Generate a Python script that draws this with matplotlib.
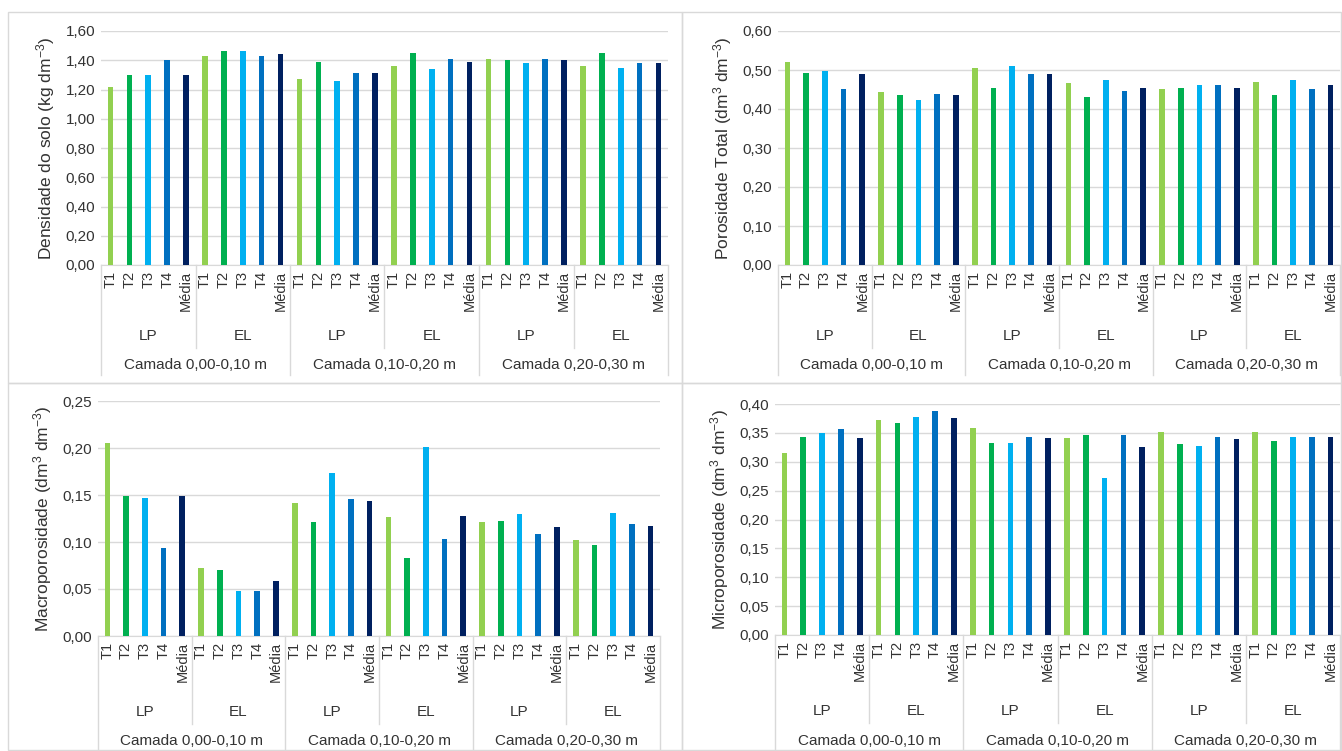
import matplotlib
matplotlib.use("Agg")
import matplotlib.pyplot as plt
from matplotlib.transforms import ScaledTranslation
from matplotlib.ticker import FuncFormatter
from matplotlib.patches import Rectangle

plt.rcParams['font.family'] = ['Liberation Sans', 'DejaVu Sans']
plt.rcParams['mathtext.default'] = 'regular'

# categories
treatments = ['T1', 'T2', 'T3', 'T4', 'Média']
systems = ['LP', 'EL']
layers = ['Camada 0,00-0,10 m', 'Camada 0,10-0,20 m', 'Camada 0,20-0,30 m']
colors = ['#92D050', '#00B050', '#00B0F0', '#0070C0', '#002060']

# values, order: layer -> system -> treatment
densidade = [1.22, 1.30, 1.30, 1.40, 1.30,  1.43, 1.46, 1.46, 1.43, 1.44,
             1.27, 1.39, 1.26, 1.31, 1.31,  1.36, 1.45, 1.34, 1.41, 1.39,
             1.41, 1.40, 1.38, 1.41, 1.40,  1.36, 1.45, 1.35, 1.38, 1.38]
porosidade = [0.520, 0.493, 0.498, 0.451, 0.489,  0.443, 0.436, 0.424, 0.439, 0.435,
              0.505, 0.455, 0.509, 0.489, 0.489,  0.466, 0.432, 0.474, 0.446, 0.455,
              0.451, 0.455, 0.462, 0.462, 0.455,  0.469, 0.435, 0.474, 0.451, 0.462]
macro = [0.205, 0.149, 0.147, 0.094, 0.149,  0.072, 0.070, 0.048, 0.048, 0.059,
         0.141, 0.121, 0.173, 0.146, 0.144,  0.127, 0.083, 0.201, 0.103, 0.128,
         0.121, 0.122, 0.130, 0.108, 0.116,  0.102, 0.097, 0.131, 0.119, 0.117]
micro = [0.315, 0.343, 0.349, 0.356, 0.341,  0.372, 0.367, 0.377, 0.388, 0.375,
         0.359, 0.333, 0.333, 0.343, 0.341,  0.341, 0.346, 0.271, 0.346, 0.326,
         0.351, 0.331, 0.328, 0.343, 0.339,  0.351, 0.336, 0.343, 0.343, 0.343]

W, H = 1342, 751
fig = plt.figure(figsize=(W / 100, H / 100), dpi=100)

# panel frames (pixels: x0, y0, x1, y1 from top-left)
for x0, y0, x1, y1 in [(8, 12, 682, 383), (682, 12, 1341, 383),
                       (8, 383, 682, 750), (682, 383, 1341, 750)]:
    fig.patches.append(Rectangle((x0 / W, 1 - y1 / H), (x1 - x0) / W, (y1 - y0) / H,
                                 transform=fig.transFigure, fill=False,
                                 edgecolor='#D9D9D9', linewidth=1))

panels = [
    # data, ymax, step, ylabel, left, right, zero_px, top_px, bottom_px
    (densidade, 1.6, 0.2, 'Densidade do solo (kg dm$^{-3}$)', 101, 668, 265, 31, 375),
    (porosidade, 0.6, 0.1, 'Porosidade Total (dm$^{3}$ dm$^{-3}$)', 778, 1340, 265, 31, 375),
    (macro, 0.25, 0.05, 'Macroporosidade (dm$^{3}$ dm$^{-3}$)', 98, 660, 636, 401, 751),
    (micro, 0.40, 0.05, 'Microporosidade (dm$^{3}$ dm$^{-3}$)', 775, 1340, 635, 404, 751),
]

txt = '#333333'
grid = '#D9D9D9'
for vals, ymax, step, ylabel, lft, rgt, y0, yt, ybot in panels:
    ax = fig.add_axes([lft / W, 1 - y0 / H, (rgt - lft) / W, (y0 - yt) / H])
    n = len(vals)
    xs = list(range(n))
    ax.bar(xs, vals, width=0.3, color=[colors[i % 5] for i in xs], zorder=3)
    ax.set_xlim(-0.5, n - 0.5)
    ax.set_ylim(0, ymax)
    ax.set_yticks([round(i * step, 2) for i in range(int(round(ymax / step)) + 1)])
    ax.yaxis.set_major_formatter(FuncFormatter(lambda v, p: f'{v:.2f}'.replace('.', ',')))
    ax.grid(axis='y', color=grid, linewidth=1, zorder=0)
    for s in ['top', 'right', 'left']:
        ax.spines[s].set_visible(False)
    ax.spines['bottom'].set_color(grid)
    ax.tick_params(axis='y', length=0, labelsize=11, labelcolor=txt, pad=4)
    ax.tick_params(axis='x', length=0, labelsize=10.5, labelcolor=txt, pad=4)
    ax.set_xticks(xs)
    ax.set_xticklabels([treatments[i % 5] for i in xs], rotation=90, va='top', ha='center')
    ax.set_ylabel(ylabel, fontsize=12.5, color=txt, labelpad=6)

    base = ax.get_xaxis_transform()
    hpx = y0 - yt

    def off(dy):
        return base + ScaledTranslation(0, -dy / 100, fig.dpi_scale_trans)

    sys_row = 88 if ybot == 751 else 83
    sys_text = sys_row - 12
    lay_text = ybot - y0 - 10

    for g in range(6):
        ax.text(g * 5 + 2, 0, systems[g % 2], transform=off(sys_text), ha='center',
                va='center', fontsize=11, color=txt)
    for b in range(7):
        xb = b * 5 - 0.5
        length = ybot - y0 if b % 2 == 0 else sys_row
        ax.add_line(plt.Line2D([xb, xb], [0, -length / hpx], color=grid, lw=1,
                               transform=base, clip_on=False))
    for l in range(3):
        ax.text(l * 10 + 4.5, 0, layers[l], transform=off(lay_text), ha='center',
                va='center', fontsize=11, color=txt)

fig.savefig('out.png', dpi=100, facecolor='white')
